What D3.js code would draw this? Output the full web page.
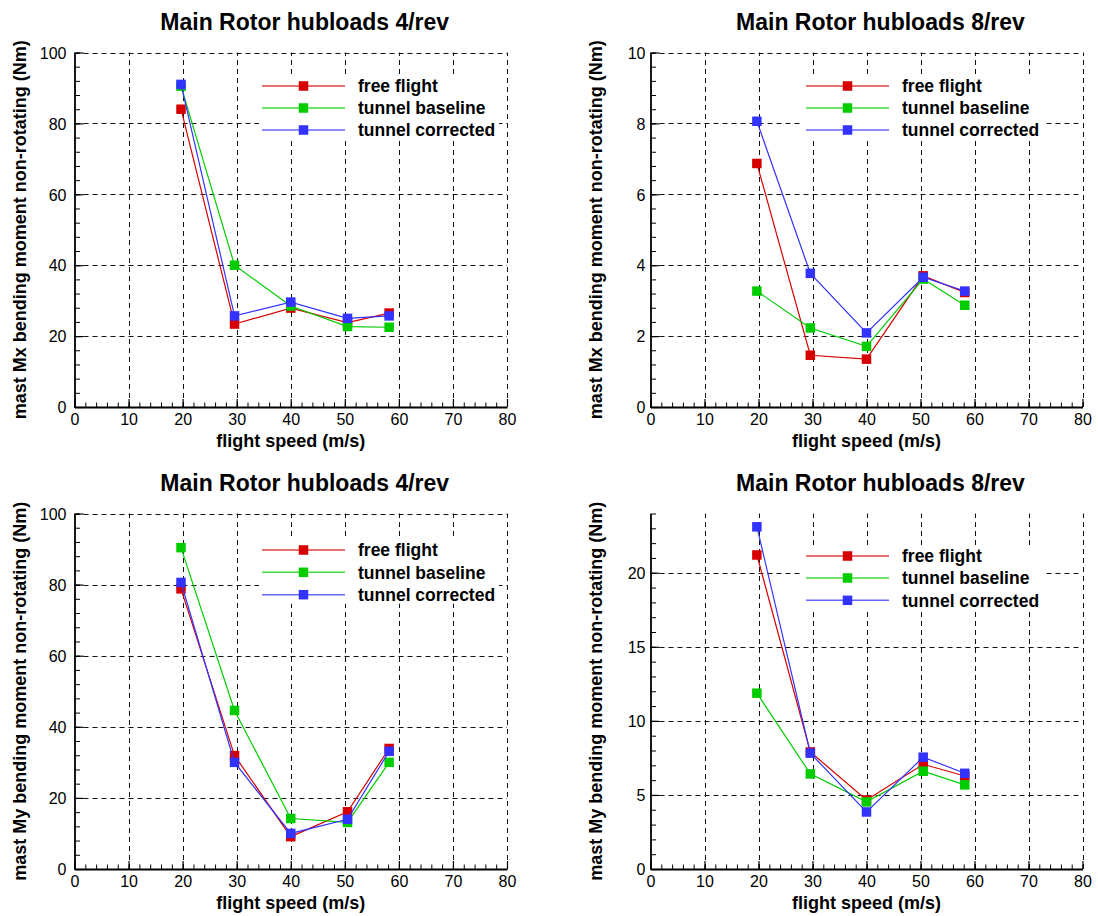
<!DOCTYPE html>
<html>
<head>
<meta charset="utf-8">
<script src="https://cdn.jsdelivr.net/npm/d3@7"></script>
<style>
  html, body { margin: 0; padding: 0; background: #fff; }
  svg { display: block; font-family: "Liberation Sans", Arial, Helvetica, sans-serif; }
</style>
</head>
<body>
<svg id="chart" width="1098" height="916"></svg>
<script>
// Flight speeds (m/s) at which hub loads were evaluated
const speeds = [19.7, 29.6, 40, 50.5, 58.2];
const seriesNames = ["free flight", "tunnel baseline", "tunnel corrected"];
const seriesColors = ["#d60000", "#00cc00", "#3333ff"];

// Mast Mx bending moment, 4/rev (Nm)
const mx4FreeFlight = [84.0, 23.4, 27.9, 23.8, 26.5];
const mx4TunnelBaseline = [90.5, 40.0, 28.5, 22.7, 22.5];
const mx4TunnelCorrected = [91.0, 25.7, 29.6, 25.0, 25.7];

// Mast Mx bending moment, 8/rev (Nm)
const mx8FreeFlight = [6.87, 1.46, 1.35, 3.70, 3.23];
const mx8TunnelBaseline = [3.27, 2.23, 1.71, 3.61, 2.87];
const mx8TunnelCorrected = [8.06, 3.77, 2.09, 3.66, 3.27];

// Mast My bending moment, 4/rev (Nm)
const my4FreeFlight = [78.8, 31.9, 9.1, 16.1, 33.9];
const my4TunnelBaseline = [90.4, 44.6, 14.2, 13.1, 30.0];
const my4TunnelCorrected = [80.6, 30.0, 10.0, 14.0, 33.1];

// Mast My bending moment, 8/rev (Nm)
const my8FreeFlight = [21.2, 7.9, 4.66, 7.07, 6.28];
const my8TunnelBaseline = [11.87, 6.42, 4.53, 6.6, 5.68];
const my8TunnelCorrected = [23.1, 7.82, 3.85, 7.55, 6.46];

// Axis tick values
const xMajorTicks = [0, 10, 20, 30, 40, 50, 60, 70, 80];
const y100Ticks = [0, 20, 40, 60, 80, 100];
const y10Ticks = [0, 2, 4, 6, 8, 10];
const y24Ticks = [0, 5, 10, 15, 20];

const titles = ["Main Rotor hubloads 4/rev", "Main Rotor hubloads 8/rev",
                "Main Rotor hubloads 4/rev", "Main Rotor hubloads 8/rev"];
const yLabels = ["mast Mx bending moment non-rotating (Nm)", "mast Mx bending moment non-rotating (Nm)",
                 "mast My bending moment non-rotating (Nm)", "mast My bending moment non-rotating (Nm)"];
const xLabel = "flight speed (m/s)";

const panels = [
  { left: 74.5, right: 507, top: 52.5, bottom: 407, yMax: 100, yTicks: y100Ticks, yMinorStep: 4,
    series: [mx4FreeFlight, mx4TunnelBaseline, mx4TunnelCorrected], legendRows: [86, 108, 130],
    labelGap: 8, title: titles[0], yLabel: yLabels[0] },
  { left: 650.5, right: 1082.5, top: 52.5, bottom: 407, yMax: 10, yTicks: y10Ticks, yMinorStep: 0.4,
    series: [mx8FreeFlight, mx8TunnelBaseline, mx8TunnelCorrected], legendRows: [86, 108, 130],
    labelGap: 5, title: titles[1], yLabel: yLabels[1] },
  { left: 74.5, right: 507, top: 513.5, bottom: 869, yMax: 100, yTicks: y100Ticks, yMinorStep: 4,
    series: [my4FreeFlight, my4TunnelBaseline, my4TunnelCorrected], legendRows: [550, 572.3, 594.7],
    labelGap: 8, title: titles[2], yLabel: yLabels[2] },
  { left: 650.5, right: 1082.5, top: 513.5, bottom: 869, yMax: 24, yTicks: y24Ticks, yMinorStep: 1,
    series: [my8FreeFlight, my8TunnelBaseline, my8TunnelCorrected], legendRows: [556, 578, 600.3],
    labelGap: 5, title: titles[3], yLabel: yLabels[3] }
];

const svg = d3.select("#chart");

function rangeStep(max, step) {
  const out = [];
  const n = Math.round(max / step);
  for (let i = 0; i <= n; i++) out.push(+(i * step).toFixed(4));
  return out;
}

panels.forEach(p => {
  const x = d3.scaleLinear().domain([0, 80]).range([p.left, p.right]);
  const y = d3.scaleLinear().domain([0, p.yMax]).range([p.bottom, p.top]);
  const g = svg.append("g");
  const w = p.right - p.left, h = p.bottom - p.top;

  // dashed grid at major ticks
  const grid = g.append("g").attr("stroke", "#111").attr("stroke-width", 1)
    .attr("stroke-dasharray", "5,4").attr("fill", "none");
  grid.selectAll("line.v").data(xMajorTicks.filter(d => d > 0)).join("line")
    .attr("x1", d => Math.round(x(d)) + 0.5).attr("x2", d => Math.round(x(d)) + 0.5)
    .attr("y1", p.bottom).attr("y2", p.top);
  grid.selectAll("line.h").data(p.yTicks.filter(d => d > 0)).join("line")
    .attr("y1", d => Math.round(y(d)) + 0.5).attr("y2", d => Math.round(y(d)) + 0.5)
    .attr("x1", p.left).attr("x2", p.right);

  // minor ticks
  g.append("g").attr("transform", `translate(0,${p.bottom})`)
    .call(d3.axisBottom(x).tickValues(rangeStep(80, 2)).tickSize(-4.5).tickFormat(""))
    .call(s => s.select(".domain").remove())
    .call(s => s.selectAll("line").attr("stroke", "#000").attr("stroke-width", 1));
  g.append("g").attr("transform", `translate(${p.left},0)`)
    .call(d3.axisLeft(y).tickValues(rangeStep(p.yMax, p.yMinorStep)).tickSize(-5.5).tickFormat(""))
    .call(s => s.select(".domain").remove())
    .call(s => s.selectAll("line").attr("stroke", "#000").attr("stroke-width", 1));

  // major ticks, labels and axis lines
  g.append("g").attr("transform", `translate(0,${p.bottom})`)
    .call(d3.axisBottom(x).tickValues(xMajorTicks).tickSize(-8).tickSizeOuter(0).tickPadding(0))
    .call(s => s.select(".domain").attr("stroke", "#000").attr("stroke-width", 1.8))
    .call(s => s.selectAll("line").attr("stroke", "#000").attr("stroke-width", 1.2))
    .call(s => s.selectAll("text").attr("font-size", 16).attr("fill", "#000")
      .attr("font-family", "'Liberation Sans', Arial, sans-serif").attr("dy", 0).attr("y", 17.5));
  g.append("g").attr("transform", `translate(${p.left},0)`)
    .call(d3.axisLeft(y).tickValues(p.yTicks).tickSize(-9).tickSizeOuter(0).tickPadding(p.labelGap))
    .call(s => s.select(".domain").attr("stroke", "#000").attr("stroke-width", 1.8))
    .call(s => s.selectAll("line").attr("stroke", "#000").attr("stroke-width", 1.2))
    .call(s => s.selectAll("text").attr("font-size", 16).attr("fill", "#000")
      .attr("font-family", "'Liberation Sans', Arial, sans-serif").attr("dy", "0.36em"));

  // legend box over the grid
  const legX0 = x(0) + (p.left < 300 ? 186 : 154);
  const legX = p.left < 300 ? 262 : 806;
  const rowTop = p.legendRows[0], rowBot = p.legendRows[2];
  g.append("rect").attr("x", legX - 3).attr("y", rowTop - 11)
    .attr("width", 240).attr("height", rowBot - rowTop + 20).attr("fill", "#fff");

  // data series: red, green, blue drawn in order
  const line = d3.line().x(d => x(d[0])).y(d => y(d[1]));
  p.series.forEach((vals, i) => {
    const pts = speeds.map((s, k) => [s, vals[k]]);
    g.append("path").datum(pts).attr("d", line).attr("fill", "none")
      .attr("stroke", seriesColors[i]).attr("stroke-width", 1.2);
    g.selectAll(null).data(pts).join("rect")
      .attr("x", d => x(d[0]) - 4.75).attr("y", d => y(d[1]) - 4.75)
      .attr("width", 9.5).attr("height", 9.5).attr("fill", seriesColors[i]);
  });

  // legend entries
  seriesNames.forEach((name, i) => {
    const ry = p.legendRows[i];
    g.append("line").attr("x1", legX).attr("x2", legX + 83).attr("y1", ry).attr("y2", ry)
      .attr("stroke", seriesColors[i]).attr("stroke-width", 1.4).attr("stroke-opacity", 0.75);
    g.append("rect").attr("x", legX + 41.5 - 4.75).attr("y", ry - 4.75)
      .attr("width", 9.5).attr("height", 9.5).attr("fill", seriesColors[i]);
    g.append("text").attr("x", legX + 96).attr("y", ry).attr("dy", "0.36em")
      .attr("font-size", 17.5).attr("font-weight", "bold").attr("fill", "#000").text(name);
  });

  // titles and axis labels
  g.append("text").attr("x", (p.left + p.right) / 2 + 14).attr("y", p.top - 22.5)
    .attr("text-anchor", "middle").attr("font-size", 23).attr("font-weight", "bold")
    .attr("fill", "#000").text(p.title);
  g.append("text").attr("x", (p.left + p.right) / 2).attr("y", p.bottom + 39.5)
    .attr("text-anchor", "middle").attr("font-size", 18).attr("font-weight", "bold")
    .attr("fill", "#000").text(xLabel);
  g.append("text")
    .attr("transform", `translate(${p.left - 49},${(p.top + p.bottom) / 2}) rotate(-90)`)
    .attr("text-anchor", "middle").attr("font-size", 18).attr("font-weight", "bold")
    .attr("fill", "#000").text(p.yLabel);
});
</script>
</body>
</html>
